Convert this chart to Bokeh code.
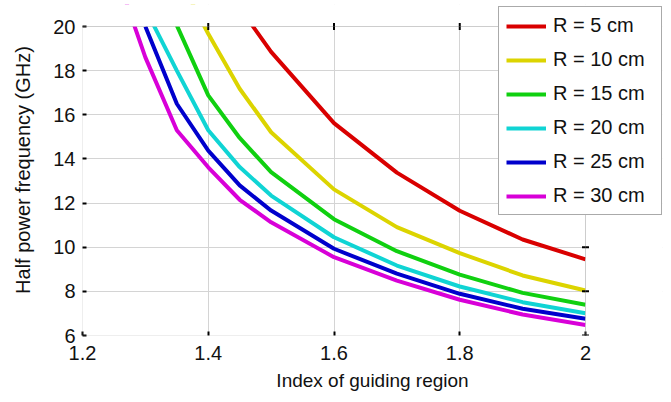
import math
from bokeh.plotting import figure
from bokeh.models import Legend, LegendItem, FixedTicker, Range1d, BoxAnnotation
from bokeh.embed import file_html
from bokeh.resources import INLINE

nan = float("nan")

# Index of guiding region
index_x = [1.25, 1.30, 1.35, 1.40, 1.45, 1.50, 1.60, 1.70, 1.80, 1.90, 2.00]

# Half power frequency (GHz) per bend radius
r5 = [nan, nan, nan, nan, 20.85, 18.85, 15.62, 13.38, 11.65, 10.35, 9.45]
r10 = [nan, nan, 22.40, 19.67, 17.18, 15.21, 12.62, 10.91, 9.73, 8.72, 8.04]
r15 = [nan, nan, 20.05, 16.88, 14.95, 13.40, 11.27, 9.82, 8.76, 7.93, 7.39]
r20 = [nan, 20.80, 18.00, 15.30, 13.63, 12.34, 10.45, 9.17, 8.22, 7.51, 7.01]
r25 = [nan, 20.00, 16.50, 14.38, 12.80, 11.66, 9.93, 8.80, 7.89, 7.21, 6.76]
r30 = [22.70, 18.60, 15.30, 13.62, 12.15, 11.13, 9.55, 8.49, 7.62, 6.95, 6.48]

series = [r5, r10, r15, r20, r25, r30]
labels = ["R = 5 cm", "R = 10 cm", "R = 15 cm", "R = 20 cm", "R = 25 cm", "R = 30 cm"]
colors = ["#d90000", "#dcd400", "#10d010", "#10d4d4", "#0000cc", "#d800d8"]

x_ticks = [1.2, 1.4, 1.6, 1.8, 2.0]
x_tick_labels = ["1.2", "1.4", "1.6", "1.8", "2"]
y_ticks = [6, 8, 10, 12, 14, 16, 18, 20]

x_title = "Index of guiding region"
y_title = "Half power frequency (GHz)"

FONT = "'Liberation Sans', Arial, sans-serif"

# Axes box spans x_ticks[0]..x_ticks[-1], y_ticks[0]..y_ticks[-1]; the frame is
# extended a little above and to the right so the legend can overhang the box.
x0, x1 = x_ticks[0], x_ticks[-1]
y0, y1 = y_ticks[0], y_ticks[-1]
x_px_per_unit = 503 / (x1 - x0)
y_px_per_unit = 309 / (y1 - y0)
x_end = x1 + 77 / x_px_per_unit
y_end = y1 + 22 / y_px_per_unit

p = figure(width=671, height=402, output_backend="svg", toolbar_location=None,
           x_range=Range1d(x0, x_end), y_range=Range1d(y0, y_end),
           min_border_left=82, min_border_right=9, min_border_top=4, min_border_bottom=67)
p.background_fill_color = "white"
p.border_fill_color = "white"
p.outline_line_color = None

grid_color = "#d4d4d4"
p.xgrid.grid_line_color = grid_color
p.ygrid.grid_line_color = grid_color
p.xgrid.ticker = FixedTicker(ticks=x_ticks)
p.ygrid.ticker = FixedTicker(ticks=y_ticks)

def style_axis(ax):
    ax.axis_line_color = None
    ax.major_tick_line_color = "black"
    ax.major_tick_line_width = 2
    ax.major_tick_in = 4
    ax.major_tick_out = 0
    ax.minor_tick_line_color = None
    ax.major_label_text_color = "#111111"
    ax.major_label_text_font = FONT
    ax.major_label_text_font_size = "20px"
    ax.axis_label_text_font_style = "normal"
    ax.axis_label_text_color = "#111111"
    ax.axis_label_text_font = FONT

xa = p.xaxis[0]
style_axis(xa)
xa.ticker = FixedTicker(ticks=x_ticks)
xa.major_label_overrides = {t: l for t, l in zip(x_ticks, x_tick_labels)}
xa.major_label_standoff = 10
xa.axis_label = x_title
xa.axis_label_text_font_size = "19px"
xa.axis_label_standoff = 7

ya = p.yaxis[0]
style_axis(ya)
ya.ticker = FixedTicker(ticks=y_ticks)
ya.major_label_standoff = 7
ya.axis_label = y_title
ya.axis_label_text_font_size = "20px"
ya.axis_label_standoff = 16

items = []
for ys, lab, col in zip(series, labels, colors):
    r = p.line(index_x, ys, line_color=col, line_width=4)
    items.append(LegendItem(label=lab, renderers=[r]))

# white masks outside the axes box (inside the enlarged frame)
p.quad(left=[x1], right=[x_end + 1], bottom=[y0 - 1], top=[y_end + 1],
       fill_color="white", line_color=None)
p.quad(left=[x0 - 1], right=[x_end + 1], bottom=[y1], top=[y_end + 1],
       fill_color="white", line_color=None)

# tick marks on the top and right edges of the box
p.scatter(x=x_ticks[1:-1], y=[y1] * (len(x_ticks) - 2), marker="dash", angle=math.pi / 2,
          size=7, line_color="black", line_width=2)
p.scatter(x=[x1] * len(y_ticks), y=y_ticks, marker="dash",
          size=7, line_color="black", line_width=2)

box = BoxAnnotation(left=x0, right=x1, bottom=y0, top=y1, fill_alpha=0,
                    line_color="#8a8a8a", line_width=1)
p.add_layout(box)

legend = Legend(items=items, location=(416, 120))
legend.label_text_font = FONT
legend.label_text_font_size = "20px"
legend.label_text_color = "#111111"
legend.glyph_width = 40
legend.glyph_height = 20
legend.label_height = 20
legend.label_width = 101
legend.spacing = 11
legend.padding = 7
legend.margin = 0
legend.label_standoff = 7
legend.border_line_color = "#555555"
legend.border_line_width = 1
legend.background_fill_color = "white"
legend.background_fill_alpha = 1.0
p.add_layout(legend, "center")

open("out.html", "w").write(file_html(p, INLINE))
